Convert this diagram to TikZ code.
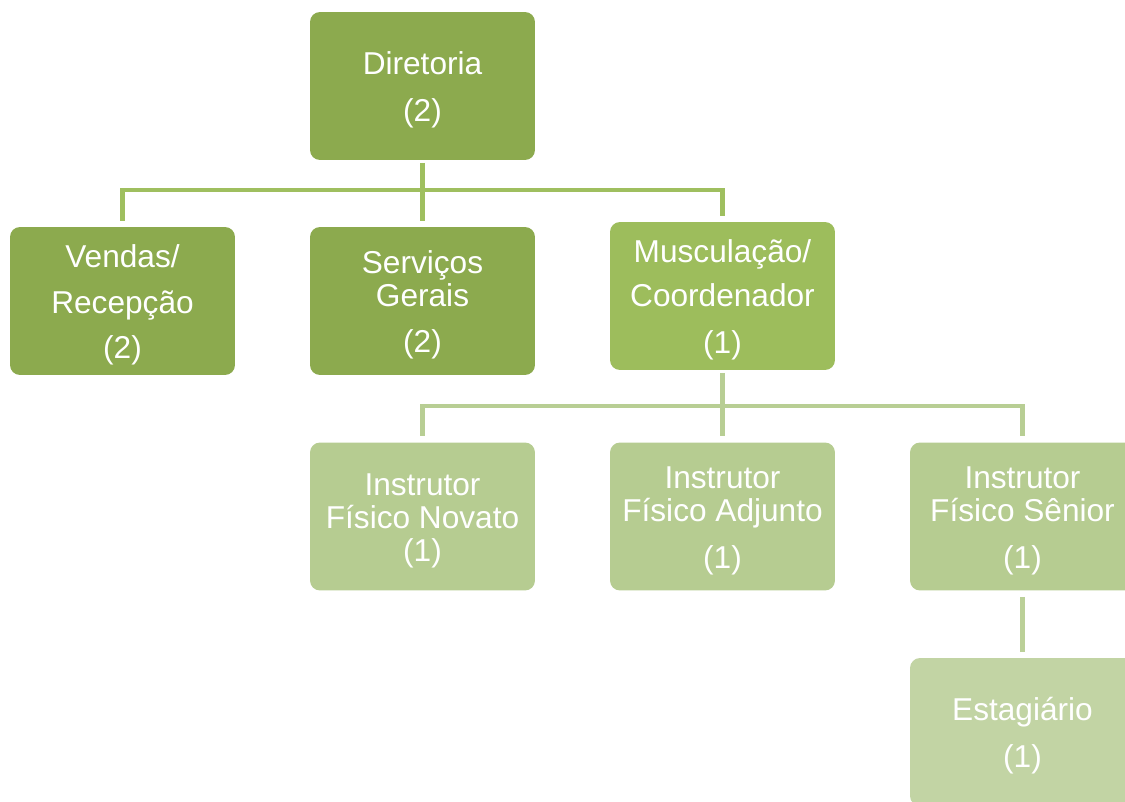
\documentclass[tikz,border=0pt]{standalone}
\usepackage{fontspec}
\setmainfont{Liberation Sans}
\definecolor{boxA}{RGB}{140,170,78}
\definecolor{boxB}{RGB}{157,189,92}
\definecolor{boxC}{RGB}{182,204,145}
\definecolor{boxD}{RGB}{194,212,164}
\definecolor{lineA}{RGB}{159,191,95}
\definecolor{lineB}{RGB}{184,206,148}
\definecolor{lineC}{RGB}{187,208,152}
\newcommand{\topgap}{\rule{0pt}{17.5pt}}

\begin{document}
\begin{tikzpicture}[x=0.02cm,y=-0.02cm]
    \tikzstyle{unit}=[shape=rectangle,rounded corners=0.2cm,minimum width=4.5cm,minimum height=2.96cm,inner sep=0pt,align=center,text=white,font=\fontsize{18}{18.7}\selectfont]
    \tikzstyle{edge} = [draw,line width=2.8pt,shorten <=1.5pt,shorten >=3.4pt]

    \useasboundingbox (0,0) rectangle (1125,801);
    \clip (0,0) rectangle (1125,801);

    \node[unit,fill=boxA] (dir) at (422.5, 86) {\topgap Diretoria\\[7.9pt](2)};
    \node[unit,fill=boxA] (vend) at (122.5, 301) {\topgap Vendas/\\[7.4pt]Recepção\\[7.4pt](2)};
    \node[unit,fill=boxA] (serv) at (422.5, 301) {\topgap Serviços\\Gerais\\[7.9pt](2)};
    \node[unit,fill=boxB] (musc) at (722.5, 296) {\topgap Musculação/\\[6.2pt]Coordenador\\[7.9pt](1)};
    \node[unit,fill=boxC] (nov) at (422.5, 516.5) {\topgap Instrutor\\Físico Novato\\(1)};
    \node[unit,fill=boxC] (adj) at (722.5, 516.5) {\topgap Instrutor\\Físico Adjunto\\[8.5pt](1)};
    \node[unit,fill=boxC] (sen) at (1022.5, 516.5) {\topgap Instrutor\\Físico Sênior\\[8.5pt](1)};
    \node[unit,fill=boxD] (est) at (1022.5, 732) {\topgap Estagiário\\[7.9pt](1)};

    \coordinate (bus1) at (422.5, 190);
    \coordinate (bus2) at (722.5, 406);

    \path[edge,draw=lineA] (dir) -- (serv);
    \path[edge,draw=lineA,shorten <=0pt] (bus1) -| (vend);
    \path[edge,draw=lineA,shorten <=0pt] (bus1) -| (musc);
    \path[edge,draw=lineB] (musc) -- (adj);
    \path[edge,draw=lineB,shorten <=0pt] (bus2) -| (nov);
    \path[edge,draw=lineB,shorten <=0pt] (bus2) -| (sen);
    \path[edge,draw=lineC,shorten <=3.4pt] (sen) -- (est);
\end{tikzpicture}
\end{document}
